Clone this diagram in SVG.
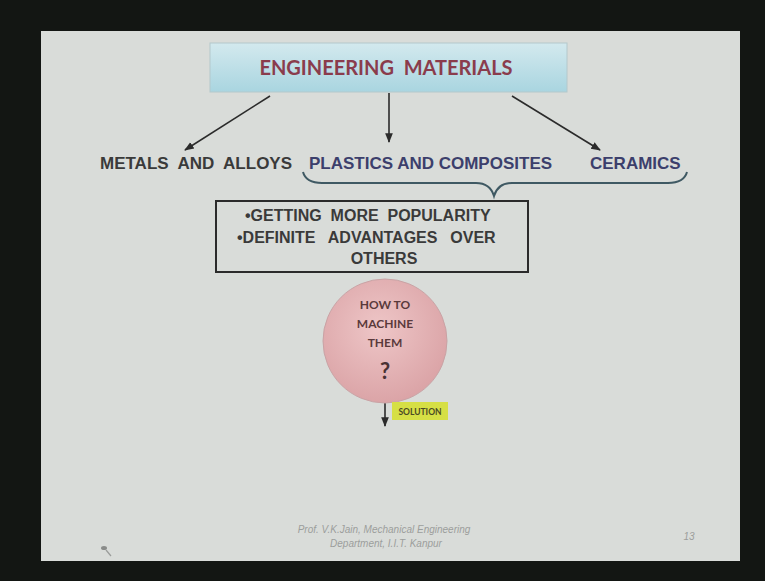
<svg xmlns="http://www.w3.org/2000/svg" width="765" height="581" viewBox="0 0 765 581">
  <defs>
    <linearGradient id="titleFill" x1="0" y1="0" x2="0" y2="1">
      <stop offset="0" stop-color="#d3e9ee"/>
      <stop offset="1" stop-color="#a9d5e0"/>
    </linearGradient>
    <radialGradient id="ballFill" cx="0.45" cy="0.4" r="0.6">
      <stop offset="0" stop-color="#eec6c7"/>
      <stop offset="1" stop-color="#dba4a7"/>
    </radialGradient>
    <marker id="head" viewBox="0 0 10 10" refX="9" refY="5" markerWidth="6" markerHeight="6" orient="auto">
      <path d="M0,1 L10,5 L0,9 Z" fill="#2b2b2b"/>
    </marker>
    <style>
      .row { font-family: "Liberation Sans", Arial, sans-serif; font-weight: bold; font-size: 17px; }
      .bul { font-family: "Liberation Sans", Arial, sans-serif; font-weight: bold; font-size: 16px; fill: #3a3a3a; }
      .cal { font-family: Lato, "Open Sans", sans-serif; font-weight: bold; }
      .conn { stroke: #2b2b2b; stroke-width: 1.6; fill: none; }
      .foot { font-family: "Liberation Sans", Arial, sans-serif; font-style: italic; font-size: 10px; fill: #9c9e9c; }
    </style>
  </defs>

  <!-- screen surround and slide -->
  <rect x="0" y="0" width="765" height="581" fill="#131613"/>
  <rect x="41" y="31" width="699" height="530" fill="#d9dcd9"/>

  <g id="title">
    <rect x="210" y="43" width="357" height="49" fill="url(#titleFill)" stroke="#b4c8cc" stroke-width="1"/>
    <text x="386" y="75" text-anchor="middle" class="cal" font-size="20" fill="#8a3c4c" xml:space="preserve">ENGINEERING  MATERIALS</text>
  </g>

  <g id="connectors">
    <line x1="270" y1="96" x2="185" y2="150" class="conn" marker-end="url(#head)"/>
    <line x1="389" y1="93" x2="389" y2="142" class="conn" marker-end="url(#head)"/>
    <line x1="512" y1="96" x2="600" y2="150" class="conn" marker-end="url(#head)"/>
    <line x1="385" y1="403" x2="385" y2="426" class="conn" marker-end="url(#head)"/>
  </g>

  <g id="metals">
    <text x="100" y="169" class="row" fill="#3a3a3a" xml:space="preserve">METALS  AND  ALLOYS</text>
  </g>
  <g id="plastics">
    <text x="309" y="169" class="row" fill="#3c3f6c">PLASTICS AND COMPOSITES</text>
  </g>
  <g id="ceramics">
    <text x="590" y="169" class="row" fill="#3c3f6c">CERAMICS</text>
  </g>

  <g id="brace">
    <path d="M303,172 Q306,183 322,183 L476,183 Q490,183 494,196 Q498,183 512,183 L668,183 Q684,183 687,172" fill="none" stroke="#3f5963" stroke-width="2"/>
  </g>

  <g id="reasons">
    <rect x="216" y="201" width="312" height="71" fill="none" stroke="#2b2b2b" stroke-width="2"/>
    <text x="245" y="221" class="bul" xml:space="preserve">•GETTING  MORE  POPULARITY</text>
    <text x="237" y="243" class="bul" xml:space="preserve" word-spacing="2">•DEFINITE  ADVANTAGES  OVER</text>
    <text x="384" y="264" text-anchor="middle" class="bul">OTHERS</text>
  </g>

  <g id="question">
    <circle cx="385" cy="341" r="62" fill="url(#ballFill)" stroke="#c9a3a5" stroke-width="1"/>
    <text x="385" y="309" text-anchor="middle" class="cal" font-size="12" fill="#5a3a3c">HOW TO</text>
    <text x="385" y="328" text-anchor="middle" class="cal" font-size="12" fill="#5a3a3c">MACHINE</text>
    <text x="385" y="347" text-anchor="middle" class="cal" font-size="12" fill="#5a3a3c">THEM</text>
    <text x="385" y="379" text-anchor="middle" class="cal" font-size="22" fill="#4a3234">?</text>
  </g>

  <g id="solution">
    <rect x="392" y="402" width="56" height="18" fill="#d6df45"/>
    <text x="420" y="414.5" text-anchor="middle" class="cal" font-size="8.5" fill="#4a4a24">SOLUTION</text>
  </g>

  <g id="footer">
    <text x="384" y="533" text-anchor="middle" class="foot">Prof. V.K.Jain, Mechanical Engineering</text>
    <text x="386" y="547" text-anchor="middle" class="foot">Department, I.I.T. Kanpur</text>
    <text x="689" y="540" text-anchor="middle" class="foot" font-style="normal">13</text>
    <!-- pointer -->
    <ellipse cx="104" cy="548" rx="3" ry="2" fill="#8a8c8a"/>
    <line x1="106" y1="550" x2="111" y2="556" stroke="#9a9c9a" stroke-width="1.2"/>
  </g>
</svg>
